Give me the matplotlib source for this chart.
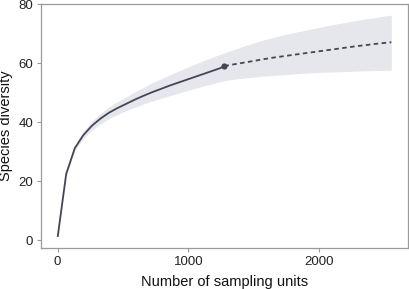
import matplotlib
matplotlib.use("Agg")
import matplotlib.pyplot as plt

# sampling units (knots) and estimated diversity
ref_m = 1276
ref_s = 59.0

obs_m = [1, 66, 132, 197, 263, 328, 393, 459, 524, 589, 655, 720, 786,
         851, 916, 982, 1047, 1113, 1178, 1243, 1276]
obs_s = [1.1, 22.4, 31.2, 35.6, 38.8, 41.2, 43.2, 44.8, 46.2, 47.6, 48.9,
         50.1, 51.2, 52.3, 53.3, 54.3, 55.3, 56.3, 57.3, 58.3, 59.0]
obs_lo = [1.1, 22.0, 30.4, 34.4, 37.3, 39.4, 41.2, 42.6, 43.9, 45.0, 46.1,
          47.1, 48.0, 48.9, 49.7, 50.6, 51.4, 52.2, 53.0, 53.7, 54.1]
obs_hi = [1.1, 22.8, 32.0, 36.8, 40.3, 43.0, 45.2, 47.0, 48.5, 50.2, 51.7,
          53.3, 54.6, 55.9, 57.2, 58.4, 59.6, 60.8, 61.9, 63.0, 63.5]

ext_m = [1276, 1309, 1374, 1440, 1505, 1570, 1636, 1701, 1767, 1832, 1897,
         1963, 2028, 2094, 2159, 2224, 2290, 2355, 2421, 2486, 2552]
ext_s = [59.0, 59.3, 59.8, 60.3, 60.8, 61.3, 61.8, 62.2, 62.6, 63.0, 63.4,
         63.8, 64.2, 64.6, 65.0, 65.4, 65.8, 66.1, 66.5, 66.8, 67.1]
ext_lo = [54.1, 54.3, 54.7, 55.0, 55.3, 55.6, 55.8, 56.0, 56.2, 56.4, 56.6,
          56.8, 56.9, 57.0, 57.1, 57.2, 57.3, 57.4, 57.5, 57.55, 57.6]
ext_hi = [63.5, 64.0, 65.0, 66.0, 66.9, 67.8, 68.6, 69.3, 70.0, 70.6, 71.2,
          71.8, 72.4, 73.0, 73.5, 74.0, 74.5, 75.0, 75.4, 75.9, 76.3]

x_ticks = [0, 1000, 2000]
y_ticks = [0, 20, 40, 60, 80]

line_col = "#434654"
band_col = "#e5e7ec"
spine_col = "#9a9a9a"

plt.rcParams["font.family"] = ["Liberation Sans", "DejaVu Sans"]

fig = plt.figure(figsize=(4.1, 2.89), dpi=100)
ax = fig.add_axes([41 / 410, 41 / 289, 367 / 410, 244 / 289])

ax.fill_between(obs_m + ext_m[1:], obs_lo + ext_lo[1:], obs_hi + ext_hi[1:],
                color=band_col, linewidth=0, zorder=1)
ax.plot(obs_m, obs_s, color=line_col, lw=1.3, solid_capstyle="butt", zorder=3)
ax.plot(ext_m, ext_s, color=line_col, lw=1.3, dashes=(2.5, 1.9), zorder=3)
ax.scatter([ref_m], [ref_s], s=20, color=line_col, zorder=4, linewidths=0)

ax.set_xlim(-126.5, 2679.5)
ax.set_ylim(-2.66, 80.06)
ax.set_xticks(x_ticks)
ax.set_yticks(y_ticks)

for sp in ax.spines.values():
    sp.set_color(spine_col)
    sp.set_linewidth(0.9)
ax.tick_params(axis="both", colors=spine_col, length=3, width=0.8,
               labelsize=9.5, labelcolor="#222222", pad=2.5)

ax.set_xlabel("Number of sampling units", fontsize=10.5, color="#111111", labelpad=5)
ax.set_ylabel("Species diversity", fontsize=10.5, color="#111111", labelpad=4)

fig.savefig("out.png", dpi=100)
